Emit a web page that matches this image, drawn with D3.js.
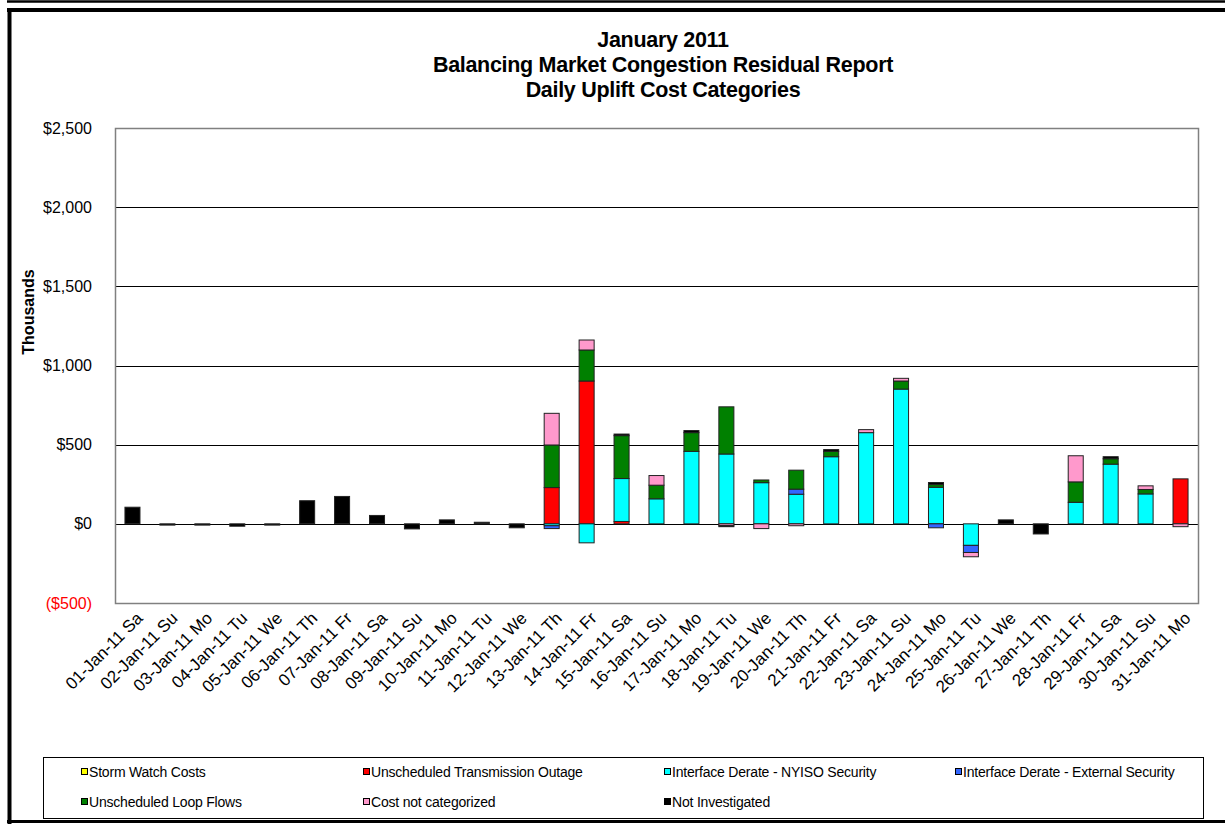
<!DOCTYPE html>
<html>
<head>
<meta charset="utf-8">
<script src="https://cdn.jsdelivr.net/npm/d3@7"></script>
<style>
  body { margin: 0; background: #fff; }
  svg { display: block; font-family: Arial, "Liberation Sans", sans-serif; }
</style>
</head>
<body>
<svg id="chart" width="1225" height="824"></svg>
<script>
"use strict";

const days = [
  "01-Jan-11 Sa", "02-Jan-11 Su", "03-Jan-11 Mo", "04-Jan-11 Tu", "05-Jan-11 We", "06-Jan-11 Th",
  "07-Jan-11 Fr", "08-Jan-11 Sa", "09-Jan-11 Su", "10-Jan-11 Mo", "11-Jan-11 Tu", "12-Jan-11 We",
  "13-Jan-11 Th", "14-Jan-11 Fr", "15-Jan-11 Sa", "16-Jan-11 Su", "17-Jan-11 Mo", "18-Jan-11 Tu",
  "19-Jan-11 We", "20-Jan-11 Th", "21-Jan-11 Fr", "22-Jan-11 Sa", "23-Jan-11 Su", "24-Jan-11 Mo",
  "25-Jan-11 Tu", "26-Jan-11 We", "27-Jan-11 Th", "28-Jan-11 Fr", "29-Jan-11 Sa", "30-Jan-11 Su",
  "31-Jan-11 Mo"
];

// values in $ thousands, one per day
const stormWatch    = [0,0,0,0,0,0,0,0,0,0,0,0, 0,0,0,0,0,0,0,0,0,0,0,0,0,0,0,0,0,0,0];
const transOutage   = [0,0,0,0,0,0,0,0,0,0,0,0, 229,902,15,0,0,0,0,0,0,0,0,0,0,0,0,0,0,0,284];
const nyisoDerate   = [0,0,0,0,0,0,0,0,0,0,0,0, -12,-120,271,158,458,441,260,187,424,576,851,231,-136,0,0,136,377,189,0];
const externDerate  = [0,0,0,0,0,0,0,0,0,0,0,0, -18,0,0,0,0,0,0,32,0,0,0,-25,-45,0,0,0,0,0,0];
const loopFlows     = [0,0,0,0,0,0,0,0,0,0,0,0, 269,196,271,86,118,298,17,120,34,0,51,17,0,0,0,129,34,28,0];
const notCategorized= [0,0,0,0,0,0,0,0,0,0,0,0, 200,63,0,61,0,-12,-30,-12,0,19,17,0,-27,0,0,165,0,23,-18];
const notInvestigated = [105,-8,-8,-15,-8,146,173,53,-32,25,10,-25, 0,0,10,0,13,-6,0,0,11,0,0,13,0,25,-64,0,13,0,0];

const seriesNames = [
  "Storm Watch Costs", "Unscheduled Transmission Outage", "Interface Derate - NYISO Security",
  "Interface Derate - External Security", "Unscheduled Loop Flows", "Cost not categorized", "Not Investigated"
];
const seriesValues = [stormWatch, transOutage, nyisoDerate, externDerate, loopFlows, notCategorized, notInvestigated];
const seriesColors = ["#ffff00", "#ff0000", "#00ffff", "#3366ff", "#008000", "#ff99cc", "#000000"];

const yTicks = [-500, 0, 500, 1000, 1500, 2000, 2500];
const titleLines = ["January 2011", "Balancing Market Congestion Residual Report", "Daily Uplift Cost Categories"];

const svg = d3.select("#chart");
const plot = { left: 115, right: 1198, top: 128, bottom: 603 };

// outer frame
svg.append("line").attr("x1", 7).attr("x2", 1225).attr("y1", 1.5).attr("y2", 1.5)
  .attr("stroke", "#000").attr("stroke-width", 2.5);
svg.append("line").attr("x1", 7).attr("x2", 1225).attr("y1", 10).attr("y2", 10)
  .attr("stroke", "#000").attr("stroke-width", 4);
svg.append("line").attr("x1", 9.5).attr("x2", 9.5).attr("y1", 8).attr("y2", 824)
  .attr("stroke", "#000").attr("stroke-width", 4);
svg.append("line").attr("x1", 7).attr("x2", 1225).attr("y1", 821.5).attr("y2", 821.5)
  .attr("stroke", "#000").attr("stroke-width", 3);

// title
svg.append("g").selectAll("text")
  .data(titleLines)
  .enter()
  .append("text")
  .attr("x", 663)
  .attr("y", (d, i) => 47 + i * 25)
  .attr("text-anchor", "middle")
  .style("font-size", "21.5px")
  .style("font-weight", "bold")
  .style("letter-spacing", "-0.3px")
  .text(d => d);

const data = days.map((day, i) => {
  const row = { day: day };
  seriesNames.forEach((name, s) => { row[name] = seriesValues[s][i]; });
  return row;
});

const x = d3.scaleBand()
  .domain(days)
  .range([plot.left, plot.right])
  .paddingInner(0.57)
  .paddingOuter(0.285);

const y = d3.scaleLinear()
  .domain([-500, 2500])
  .range([plot.bottom, plot.top]);

const color = d3.scaleOrdinal().domain(seriesNames).range(seriesColors);

// gridlines
svg.append("g").selectAll("line")
  .data(yTicks.filter(t => t > -500 && t < 2500))
  .enter()
  .append("line")
  .attr("x1", plot.left).attr("x2", plot.right)
  .attr("y1", d => Math.round(y(d)) + 0.5).attr("y2", d => Math.round(y(d)) + 0.5)
  .attr("stroke", "#000").attr("stroke-width", 1);

svg.append("rect")
  .attr("x", plot.left + 0.5).attr("y", plot.top + 0.5)
  .attr("width", plot.right - plot.left).attr("height", plot.bottom - plot.top)
  .attr("fill", "none").attr("stroke", "#808080").attr("stroke-width", 1.5);

// y axis labels
const money = d3.format(",");
svg.append("g").selectAll("text")
  .data(yTicks)
  .enter()
  .append("text")
  .attr("x", 92)
  .attr("y", d => y(d))
  .attr("dy", "0.35em")
  .attr("text-anchor", "end")
  .style("font-size", "16px")
  .attr("fill", d => d < 0 ? "#ff0000" : "#000")
  .text(d => d < 0 ? "($" + money(-d) + ")" : "$" + money(d));

svg.append("text")
  .attr("transform", "translate(34,312) rotate(-90)")
  .attr("text-anchor", "middle")
  .style("font-size", "16px")
  .style("font-weight", "bold")
  .text("Thousands");

// stacked bars, negatives stacked downward
const stack = d3.stack()
  .keys(seriesNames)
  .offset(d3.stackOffsetDiverging);

const stackedData = stack(data);

svg.append("g").selectAll("g")
  .data(stackedData)
  .enter()
  .append("g")
  .attr("fill", d => color(d.key))
  .selectAll("rect")
  .data(d => d.filter(p => p[1] !== p[0]))
  .enter()
  .append("rect")
  .attr("x", d => x(d.data.day))
  .attr("y", d => y(Math.max(d[0], d[1])))
  .attr("width", x.bandwidth())
  .attr("height", d => Math.abs(y(d[0]) - y(d[1])))
  .attr("stroke", "#222")
  .attr("stroke-width", 1);

// x axis labels
svg.append("g").selectAll("text")
  .data(days)
  .enter()
  .append("text")
  .attr("transform", d => `translate(${x(d) + x.bandwidth() / 2 + 7},${plot.bottom + 12}) rotate(-45)`)
  .attr("text-anchor", "end")
  .attr("dy", "0.35em")
  .style("font-size", "17px")
  .text(d => d);

// legend
const legend = svg.append("g");
legend.append("rect")
  .attr("x", 43.5).attr("y", 757.5).attr("width", 1160).attr("height", 61)
  .attr("fill", "#fff").attr("stroke", "#000").attr("stroke-width", 1);

const legendCols = [81, 363, 664, 955];
const legendItems = legend.selectAll("g")
  .data(seriesNames)
  .enter()
  .append("g")
  .attr("transform", (d, i) => `translate(${legendCols[i % 4]},${i < 4 ? 772 : 802})`);

legendItems.append("rect")
  .attr("x", 0.5).attr("y", -3.5).attr("width", 6).attr("height", 6)
  .attr("fill", d => color(d)).attr("stroke", "#000").attr("stroke-width", 1);

legendItems.append("text")
  .attr("x", 8)
  .attr("y", 0)
  .attr("dy", "0.35em")
  .style("font-size", "14px")
  .style("letter-spacing", "-0.2px")
  .text(d => d);
</script>
</body>
</html>
